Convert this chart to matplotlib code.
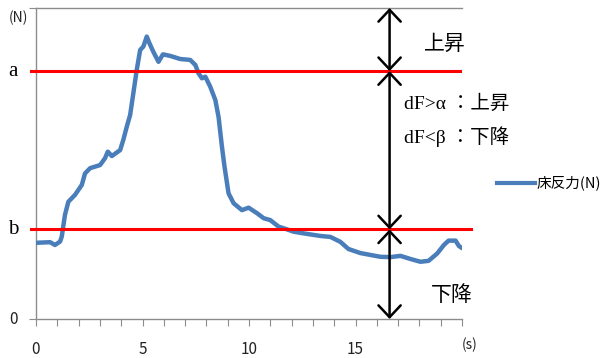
import matplotlib.pyplot as plt
from matplotlib.lines import Line2D

plt.rcParams['font.family'] = ['Noto Sans CJK JP', 'DejaVu Sans']

# floor reaction force trace (time s, force in arbitrary units)
time_s = [0.0, 0.66, 0.89, 1.13, 1.21, 1.36, 1.52, 1.83, 2.15, 2.30, 2.54, 3.01,
          3.24, 3.37, 3.56, 3.95, 4.10, 4.26, 4.42, 4.57, 4.73, 4.89, 5.04, 5.20,
          5.33, 5.51, 5.75, 5.96, 6.30, 6.77, 7.24, 7.48, 7.63, 7.79, 7.95, 8.18,
          8.42, 8.57, 8.73, 8.85, 9.04, 9.28, 9.67, 9.98, 10.38, 10.69, 11.00,
          11.39, 11.71, 12.08, 12.41, 13.35, 13.82, 14.29, 14.67, 15.23, 16.17,
          16.64, 17.11, 17.58, 18.05, 18.43, 18.84, 19.15, 19.37, 19.70, 19.85, 20.0]
force = [24.5, 24.7, 23.8, 24.9, 26.5, 33.5, 37.7, 39.9, 43.1, 46.8, 48.5, 49.5,
         51.7, 53.8, 52.4, 54.3, 57.6, 61.8, 65.6, 72.6, 80.1, 86.5, 87.6, 90.8,
         88.6, 85.9, 82.7, 85.1, 84.6, 83.6, 83.3, 81.7, 79.0, 77.4, 77.9, 74.7,
         70.4, 65.0, 55.4, 49.0, 40.4, 37.2, 35.0, 35.8, 34.0, 32.4, 31.8,
         29.7, 29.0, 28.1, 27.7, 26.7, 26.4, 24.8, 22.5, 21.2, 20.0,
         19.9, 20.3, 19.3, 18.4, 18.7, 21.1, 23.8, 25.2, 25.2, 23.5, 22.8]

level_a = 79.7
level_b = 28.8
y_max = 100
x_max = 20
arrow_t = 16.6

fig = plt.figure(figsize=(6.14, 3.58), dpi=100)
ax = fig.add_axes([36 / 614, 39 / 358, 426 / 614, 311 / 358])

ax.plot(time_s, force, color="#4a7ebb", linewidth=3.2, solid_capstyle="round",
        solid_joinstyle="round", zorder=3)

# threshold lines
ax.plot([-0.25, 19.9], [level_a, level_a], color="#ff0000", linewidth=2.2,
        clip_on=False, zorder=4)
ax.plot([-0.25, 20.4], [level_b, level_b], color="#ff0000", linewidth=2.2,
        clip_on=False, zorder=4)

# double arrows split at a and b
for y0, y1 in [(y_max, level_a), (level_a, level_b), (level_b, 0)]:
    ax.annotate("", xy=(arrow_t, y1), xytext=(arrow_t, y0),
                arrowprops=dict(arrowstyle="<->,head_length=8.5,head_width=8",
                                mutation_scale=1, color="black", lw=1.8,
                                shrinkA=0, shrinkB=0),
                annotation_clip=False, zorder=5)

ax.set_xlim(0, x_max)
ax.set_ylim(0, y_max)
ax.spines["right"].set_visible(False)
for side in ["left", "bottom", "top"]:
    ax.spines[side].set_color("#8c8c8c")
    ax.spines[side].set_linewidth(1.0)

ax.set_xticks(range(0, x_max + 1))
ax.set_xticklabels([str(t) if t % 5 == 0 and t < 20 else "" for t in range(0, x_max + 1)])
ax.tick_params(axis="x", direction="out", length=5, color="#8c8c8c",
               labelsize=11, pad=11, labelcolor="#222222")
ax.set_yticks([0, y_max])
ax.set_yticklabels([])
ax.tick_params(axis="y", direction="out", length=5, color="#8c8c8c")

# y labels
ax.text(-0.85, 0, "0", ha="right", va="center", fontsize=11, color="#222222")
ax.text(-0.85, level_a, "a", ha="right", va="center", fontsize=15,
        family=["Liberation Serif"])
ax.text(-0.85, level_b, "b", ha="right", va="center", fontsize=15,
        family=["Liberation Serif"])
ax.text(-0.35, 96.8, "(N)", ha="right", va="center", fontsize=10, color="#222222")
ax.text(20.0, -8.3, "(s)", ha="left", va="center", fontsize=10, color="#222222")

# annotations
ax.text(19.2, 88.3, "上昇", ha="center", va="center", fontsize=15)
ax.text(19.5, 7.8, "下降", ha="center", va="center", fontsize=15)
ax.text(17.3, 69.1, "dF>α ：上昇", ha="left", va="center", fontsize=14,
        family=["Liberation Serif", "Noto Sans CJK JP"])
ax.text(17.3, 58.5, "dF<β ：下降", ha="left", va="center", fontsize=14,
        family=["Liberation Serif", "Noto Sans CJK JP"])

# legend
fig.add_artist(Line2D([497 / 614, 535 / 614], [175 / 358, 175 / 358],
                      color="#4a7ebb", linewidth=3))
fig.text(537 / 614, 175 / 358, "床反力(N)", ha="left", va="center", fontsize=10.5)

fig.savefig("out.png", dpi=100)
